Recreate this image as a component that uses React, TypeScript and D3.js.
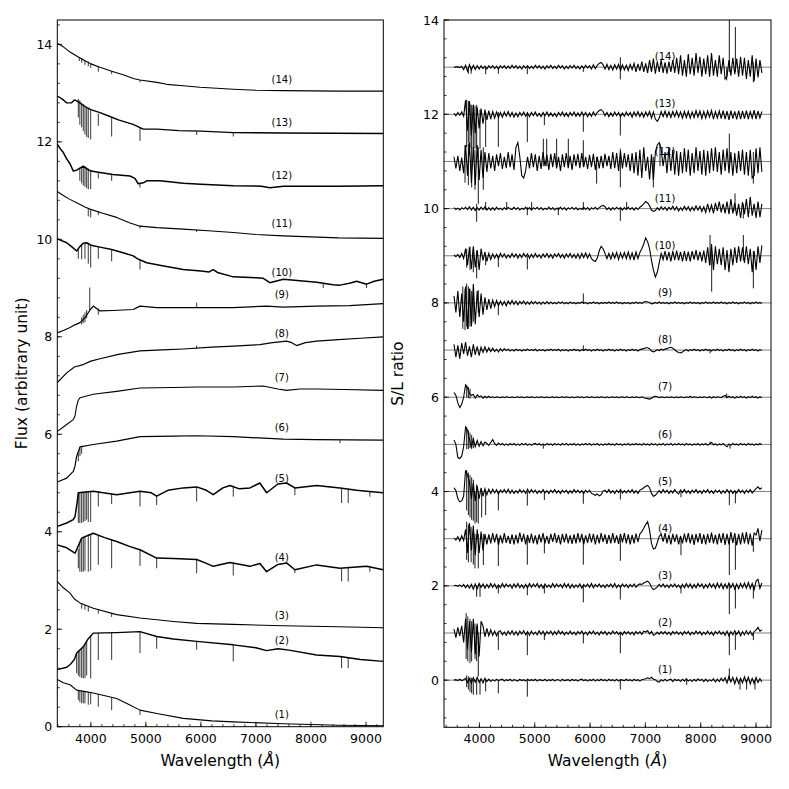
import * as d3 from "d3";

type P2 = [number, number];
type P3 = [number, number, number];

const names = ["(1)", "(2)", "(3)", "(4)", "(5)", "(6)", "(7)", "(8)", "(9)", "(10)", "(11)", "(12)", "(13)", "(14)"];

// ---- left panel: flux continua [wavelength, flux]
const flux1: P2[] = [[3390,0.97],[3500,0.9],[3621,0.86],[3742,0.75],[3900,0.72],[4044,0.69],[4469,0.58],[4700,0.45],[4893,0.34],[5200,0.27],[5679,0.17],[6200,0.12],[6588,0.1],[7496,0.06],[8500,0.03],[9315,0.02]];
const flux2: P2[] = [[3390,1.17],[3561,1.22],[3621,1.27],[3700,1.38],[3742,1.51],[3862,1.64],[3950,1.8],[4044,1.92],[4469,1.93],[4893,1.95],[5196,1.85],[5500,1.8],[5923,1.75],[6588,1.68],[7000,1.62],[7194,1.56],[7400,1.6],[7600,1.57],[8103,1.47],[8527,1.44],[8900,1.38],[9315,1.34]];
const flux3: P2[] = [[3390,2.98],[3500,2.85],[3621,2.74],[3700,2.62],[3802,2.54],[4044,2.43],[4469,2.3],[4893,2.23],[5500,2.16],[5923,2.12],[6588,2.1],[7496,2.07],[8500,2.05],[9315,2.03]];
const flux4: P2[] = [[3390,3.73],[3561,3.67],[3712,3.56],[3833,3.87],[4044,3.97],[4250,3.88],[4469,3.8],[4700,3.7],[4893,3.63],[5196,3.46],[5500,3.45],[5923,3.43],[6100,3.35],[6224,3.29],[6528,3.37],[6891,3.29],[7072,3.35],[7194,3.18],[7400,3.33],[7557,3.36],[7708,3.22],[8103,3.32],[8527,3.25],[9011,3.29],[9315,3.22]];
const flux5: P2[] = [[3390,4.11],[3561,4.18],[3680,4.25],[3712,4.31],[3750,4.6],[3772,4.8],[4044,4.83],[4469,4.76],[4893,4.83],[5100,4.8],[5196,4.73],[5400,4.85],[5679,4.9],[5923,4.92],[6100,4.85],[6224,4.76],[6400,4.9],[6528,4.95],[6700,4.88],[6891,4.9],[7072,5.0],[7194,4.8],[7400,4.98],[7557,5.0],[7708,4.9],[8103,4.95],[8527,4.9],[8830,4.85],[9011,4.83],[9315,4.8]];
const flux6: P2[] = [[3390,5.02],[3561,5.1],[3681,5.24],[3712,5.35],[3742,5.55],[3802,5.74],[4044,5.79],[4469,5.86],[4893,5.95],[5500,5.96],[5923,5.97],[6588,5.95],[7496,5.9],[8103,5.89],[9315,5.88]];
const flux7: P2[] = [[3390,6.06],[3500,6.15],[3561,6.2],[3681,6.3],[3712,6.38],[3742,6.58],[3772,6.7],[3802,6.75],[4044,6.82],[4469,6.88],[4893,6.95],[5500,6.96],[5923,6.97],[6588,6.97],[7133,6.99],[7400,6.93],[7557,6.9],[7800,6.93],[8103,6.93],[8600,6.92],[9315,6.9]];
const flux8: P2[] = [[3390,7.06],[3561,7.26],[3700,7.38],[3862,7.43],[4000,7.5],[4166,7.55],[4500,7.64],[4893,7.71],[5300,7.73],[5679,7.75],[6200,7.79],[6588,7.81],[7072,7.84],[7300,7.88],[7557,7.91],[7650,7.88],[7739,7.82],[7900,7.88],[8103,7.91],[8500,7.94],[8900,7.97],[9315,8.0]];
const flux9: P2[] = [[3390,8.08],[3500,8.13],[3621,8.19],[3700,8.24],[3802,8.29],[3900,8.4],[3984,8.55],[4044,8.63],[4166,8.53],[4400,8.54],[4771,8.56],[4893,8.63],[5200,8.6],[5923,8.6],[6588,8.6],[7194,8.63],[7500,8.61],[8103,8.63],[8700,8.64],[9315,8.68]];
const flux10: P2[] = [[3390,10.01],[3561,9.93],[3650,9.85],[3742,9.76],[3800,9.85],[3862,9.92],[3924,9.93],[4000,9.88],[4166,9.84],[4378,9.79],[4600,9.72],[4771,9.66],[4850,9.6],[4952,9.55],[5014,9.52],[5300,9.46],[5679,9.38],[6000,9.35],[6150,9.33],[6224,9.38],[6300,9.32],[6588,9.23],[7000,9.21],[7133,9.2],[7254,9.11],[7496,9.18],[7800,9.15],[8103,9.12],[8223,9.1],[8400,9.07],[8527,9.06],[8700,9.1],[8830,9.14],[8950,9.1],[9011,9.08],[9150,9.14],[9315,9.18]];
const flux11: P2[] = [[3390,10.98],[3500,10.9],[3600,10.83],[3742,10.75],[3900,10.66],[3984,10.62],[4200,10.54],[4469,10.45],[4700,10.34],[4893,10.27],[5200,10.24],[5679,10.21],[6200,10.17],[6588,10.14],[7000,10.1],[7496,10.07],[8000,10.05],[8500,10.03],[9315,10.02]];
const flux12: P2[] = [[3390,11.95],[3450,11.85],[3500,11.78],[3561,11.65],[3621,11.55],[3681,11.4],[3742,11.42],[3862,11.5],[3924,11.45],[4000,11.4],[4166,11.37],[4400,11.33],[4711,11.3],[4800,11.25],[4862,11.14],[4952,11.16],[5014,11.2],[5256,11.2],[5679,11.15],[6000,11.13],[6588,11.1],[7100,11.09],[7254,11.06],[7500,11.09],[8500,11.09],[9315,11.1]];
const flux13: P2[] = [[3390,12.94],[3450,12.9],[3500,12.86],[3561,12.8],[3650,12.8],[3700,12.86],[3742,12.84],[3800,12.8],[3900,12.72],[4000,12.66],[4166,12.6],[4347,12.52],[4500,12.45],[4767,12.36],[4952,12.26],[5200,12.26],[5600,12.23],[6000,12.22],[6588,12.19],[7500,12.18],[9315,12.17]];
const flux14: P2[] = [[3390,14.02],[3500,13.95],[3600,13.86],[3742,13.76],[3900,13.66],[4000,13.6],[4166,13.53],[4378,13.45],[4600,13.37],[4771,13.3],[4893,13.27],[5200,13.22],[5378,13.18],[5679,13.15],[5983,13.12],[6588,13.08],[7000,13.06],[7496,13.05],[8500,13.04],[9315,13.04]];
const fluxSeries = [flux1, flux2, flux3, flux4, flux5, flux6, flux7, flux8, flux9, flux10, flux11, flux12, flux13, flux14];

// absorption / emission features [wavelength, flux from, flux to]
const lines1: P3[] = [[3772,0.75,0.55],[3800,0.74,0.5],[3833,0.73,0.48],[3862,0.73,0.48],[3893,0.72,0.48],[3953,0.71,0.45],[3997,0.7,0.46],[4135,0.67,0.41],[4378,0.6,0.34],[4893,0.34,0.24]];
const lines2: P3[] = [[3742,1.5,1.1],[3772,1.55,1.05],[3800,1.58,1.02],[3833,1.62,1.0],[3862,1.64,0.99],[3893,1.7,1.0],[3924,1.75,1.05],[3997,1.88,0.99],[4135,1.92,1.37],[4378,1.93,1.37],[4893,1.95,1.51],[5196,1.85,1.6],[5923,1.75,1.58],[6588,1.68,1.34],[8557,1.44,1.2],[8677,1.42,1.2]];
const lines3: P3[] = [[3833,2.52,2.42],[3893,2.5,2.4],[3953,2.46,2.36],[4135,2.4,2.32],[4378,2.32,2.25]];
const lines4: P3[] = [[3772,3.65,3.25],[3800,3.78,3.18],[3833,3.87,3.18],[3862,3.9,3.18],[3893,3.92,3.2],[3953,3.95,3.18],[3997,3.96,3.2],[4135,3.92,3.32],[4378,3.83,3.25],[4893,3.63,3.3],[5196,3.46,3.25],[5923,3.43,3.15],[6588,3.37,3.1],[7708,3.22,3.15],[8557,3.25,2.98],[8677,3.27,2.98],[9071,3.28,3.18]];
const lines5: P3[] = [[3772,4.78,4.18],[3800,4.8,4.18],[3833,4.81,4.18],[3862,4.82,4.2],[3893,4.82,4.22],[3924,4.82,4.25],[3953,4.83,4.2],[3997,4.83,4.2],[4135,4.82,4.52],[4378,4.78,4.57],[4893,4.83,4.52],[5196,4.73,4.55],[5923,4.92,4.62],[6588,4.93,4.72],[7708,4.9,4.75],[8557,4.9,4.59],[8677,4.88,4.59],[9071,4.83,4.72]];
const lines6: P3[] = [[3772,5.62,5.45],[3802,5.72,5.55],[3833,5.75,5.6],[8527,5.88,5.82]];
const lines7: P3[] = [];
const lines8: P3[] = [[5923,7.76,7.82]];
const lines9: P3[] = [[3833,8.4,8.25],[3862,8.45,8.28],[3893,8.5,8.3],[3924,8.55,8.38],[3980,8.55,9.01],[4135,8.58,8.45],[5923,8.6,8.7]];
const lines10: P3[] = [[3772,9.78,9.6],[3833,9.88,9.59],[3893,9.92,9.6],[3953,9.93,9.5],[3997,9.9,9.42],[4135,9.85,9.6],[4378,9.79,9.55],[4893,9.58,9.38],[8223,9.1,9.0],[9011,9.08,9.0]];
const lines11: P3[] = [[3953,10.64,10.47],[3997,10.62,10.45],[4135,10.58,10.5],[4893,10.28,10.22],[5923,10.19,10.15]];
const lines12: P3[] = [[3800,11.47,11.2],[3833,11.48,11.15],[3862,11.5,11.1],[3893,11.49,11.08],[3924,11.47,11.05],[3953,11.45,11.03],[3997,11.42,11.03],[4135,11.38,11.25],[4378,11.34,11.2],[4893,11.15,11.06]];
const lines13: P3[] = [[3772,12.88,12.5],[3800,12.85,12.35],[3833,12.8,12.3],[3862,12.77,12.22],[3893,12.74,12.15],[3924,12.72,12.1],[3953,12.7,12.08],[3997,12.66,12.05],[4135,12.58,12.33],[4378,12.5,12.11],[4893,12.3,12.02],[5923,12.22,12.14],[6588,12.19,12.11]];
const lines14: P3[] = [[3790,13.74,13.66],[3833,13.72,13.62],[3893,13.68,13.58],[3953,13.65,13.55],[3997,13.62,13.52],[4135,13.54,13.44],[4378,13.45,13.39],[4893,13.27,13.22]];
const fluxLines = [lines1, lines2, lines3, lines4, lines5, lines6, lines7, lines8, lines9, lines10, lines11, lines12, lines13, lines14];

const fluxLabelY = [0.25, 1.76, 2.28, 3.47, 5.1, 6.14, 7.16, 8.06, 8.86, 9.32, 10.32, 11.3, 12.4, 13.27];
const fluxLabelW = 7470;

// ---- right panel: S/L ratio, each spectrum offset by one unit
const ratioOffset = [0, 1, 2, 3, 4, 5, 6, 7, 8, 9, 10, 11, 12, 13];
const ratioWave = [
  3540, 3575, 3610, 3645, 3680, 3715, 3750, 3785, 3820, 3855,
  3890, 3925, 3960, 3995, 4030, 4065, 4100, 4135, 4170, 4205,
  4240, 4275, 4310, 4345, 4380, 4415, 4450, 4485, 4520, 4555,
  4590, 4625, 4660, 4695, 4730, 4765, 4800, 4835, 4870, 4905,
  4940, 4975, 5010, 5045, 5080, 5115, 5150, 5185, 5220, 5255,
  5290, 5325, 5360, 5395, 5430, 5465, 5500, 5535, 5570, 5605,
  5640, 5675, 5710, 5745, 5780, 5815, 5850, 5885, 5920, 5955,
  5990, 6025, 6060, 6095, 6130, 6165, 6200, 6235, 6270, 6305,
  6340, 6375, 6410, 6445, 6480, 6515, 6550, 6585, 6620, 6655,
  6690, 6725, 6760, 6795, 6830, 6865, 6900, 6935, 6970, 7005,
  7040, 7075, 7110, 7145, 7180, 7215, 7250, 7285, 7320, 7355,
  7390, 7425, 7460, 7495, 7530, 7565, 7600, 7635, 7670, 7705,
  7740, 7775, 7810, 7845, 7880, 7915, 7950, 7985, 8020, 8055,
  8090, 8125, 8160, 8195, 8230, 8265, 8300, 8335, 8370, 8405,
  8440, 8475, 8510, 8545, 8580, 8615, 8650, 8685, 8720, 8755,
  8790, 8825, 8860, 8895, 8930, 8965, 9000, 9035, 9070, 9105,
];
const ratio1 = [
  0, 0.01, -0.01, 0.02, -0.01, 0.01, 0.04, -0.05, 0.03, -0.06,
  0.05, -0.04, 0.06, -0.05, 0.03, -0.06, 0.04, -0.03, 0.02, -0.03,
  0.01, -0.02, 0.02, -0.01, 0.01, 0.02, -0.02, 0.01, -0.01, 0.02,
  -0.02, 0.01, 0, -0.02, 0.02, -0.01, 0.01, -0.02, 0.02, -0.01,
  0.01, -0.01, 0.02, -0.02, 0.01, 0, -0.01, 0.02, -0.02, 0.01,
  -0.01, 0.02, -0.02, 0.01, 0.01, -0.02, 0.02, -0.01, 0, 0.01,
  -0.02, 0.02, -0.01, 0.01, -0.02, 0.01, 0.02, -0.01, 0.01, -0.02,
  0.01, -0.01, 0.02, -0.02, 0.01, -0.01, 0.02, -0.01, 0.01, -0.02,
  0.02, -0.01, 0.01, -0.02, 0.02, -0.02, 0.01, 0, -0.01, 0.02,
  -0.01, 0.01, -0.02, 0.02, -0.01, 0.01, -0.02, 0.01, 0.02, 0.03,
  0.05, 0.03, 0.06, 0.02, 0.01, -0.03, -0.04, 0.01, -0.02, 0.02,
  -0.02, 0.01, 0.02, -0.03, 0.02, -0.01, 0.01, -0.03, 0.02, -0.02,
  0.03, -0.02, 0.01, -0.03, 0.02, -0.02, 0.03, -0.01, 0.02, -0.03,
  0.02, -0.03, 0.01, -0.02, 0.03, -0.04, 0.02, -0.03, 0.04, -0.02,
  0.05, -0.06, 0.08, -0.04, 0.06, -0.08, 0.05, -0.07, 0.04, -0.06,
  0.07, -0.05, 0.06, -0.08, 0.04, -0.07, 0.06, -0.05, 0.03, -0.04,
];
const ratio2 = [
  0.08, -0.1, 0.12, -0.06, 0.15, -0.2, 0.3, -0.35, 0.25, -0.4,
  0.3, -0.45, 0.2, -0.5, 0.25, 0.15, -0.08, 0.1, -0.06, 0.07,
  -0.05, 0.04, -0.06, 0.03, 0.05, -0.04, 0.02, -0.05, 0.04, -0.03,
  0.05, -0.04, 0.03, -0.05, 0.04, -0.02, 0.05, -0.04, 0.03, -0.05,
  0.04, -0.03, 0.02, -0.04, 0.05, -0.03, 0.04, -0.05, 0.03, -0.02,
  0.04, -0.04, 0.03, -0.03, 0.05, -0.02, 0.03, -0.04, 0.02, -0.03,
  0.04, -0.03, 0.02, -0.04, 0.03, -0.02, 0.04, -0.03, 0.02, -0.04,
  0.03, -0.02, 0.04, -0.03, 0.02, -0.04, 0.03, -0.02, 0.03, -0.04,
  0.02, -0.03, 0.04, -0.02, 0.03, -0.03, 0.02, -0.04, 0.03, -0.02,
  0.03, -0.03, 0.02, -0.04, 0.03, -0.02, 0.03, -0.03, 0.04, 0.02,
  0.05, -0.02, 0.03, -0.05, -0.03, 0.02, -0.03, 0.03, -0.02, 0.03,
  -0.03, 0.02, -0.04, 0.03, -0.02, 0.03, -0.03, 0.02, -0.04, 0.03,
  -0.02, 0.03, -0.04, 0.02, -0.03, 0.04, -0.02, 0.03, -0.04, 0.02,
  -0.03, 0.04, -0.03, 0.02, -0.05, 0.03, -0.02, 0.04, -0.03, 0.02,
  -0.05, 0.04, -0.06, 0.03, -0.04, 0.05, -0.03, 0.04, -0.06, 0.03,
  -0.04, 0.05, -0.03, 0.04, -0.05, 0.03, 0.06, 0.12, 0.04, 0.07,
];
const ratio3 = [
  0, 0.01, -0.01, 0.02, -0.02, 0.03, -0.04, 0.02, -0.05, 0.03,
  -0.07, 0.04, -0.06, 0.05, -0.03, 0.04, -0.05, 0.03, -0.04, 0.05,
  -0.03, 0.04, -0.05, 0.02, -0.04, 0.05, -0.03, 0.04, -0.02, 0.03,
  -0.05, 0.04, -0.03, 0.05, -0.04, 0.02, -0.05, 0.03, -0.04, 0.05,
  -0.03, 0.04, -0.02, 0.05, -0.04, 0.03, -0.05, 0.04, -0.03, 0.02,
  -0.04, 0.05, -0.03, 0.04, -0.02, 0.03, -0.04, 0.05, -0.03, 0.04,
  -0.05, 0.03, -0.04, 0.02, -0.03, 0.04, -0.05, 0.03, -0.02, 0.04,
  -0.03, 0.05, -0.04, 0.03, -0.02, 0.04, -0.03, 0.02, -0.04, 0.03,
  -0.02, 0.04, -0.03, 0.05, -0.04, 0.02, -0.03, 0.04, -0.02, 0.03,
  -0.04, 0.03, -0.02, 0.04, -0.03, 0.02, 0.04, 0.03, 0.06, 0.08,
  0.1, 0.06, -0.03, -0.08, -0.06, -0.02, 0.03, -0.02, 0.04, -0.03,
  0.02, -0.04, 0.03, -0.02, 0.04, -0.03, 0.02, -0.05, 0.03, -0.04,
  0.05, -0.03, 0.04, -0.05, 0.03, -0.04, 0.05, -0.02, 0.04, -0.05,
  0.03, -0.04, 0.05, -0.03, 0.04, -0.05, 0.06, -0.04, 0.05, -0.06,
  0.04, -0.05, 0.06, -0.04, 0.05, -0.07, 0.04, -0.06, 0.05, -0.04,
  0.06, -0.05, 0.07, -0.06, 0.05, -0.08, 0.1, 0.14, -0.05, 0.06,
];
const ratio4 = [
  0.02, -0.03, 0.04, -0.05, 0.06, -0.04, 0.2, -0.3, 0.33, -0.25,
  0.28, -0.35, 0.2, -0.3, 0.15, -0.25, 0.1, -0.12, 0.09, -0.1,
  0.12, -0.08, 0.1, -0.13, 0.07, -0.1, 0.12, -0.09, 0.06, -0.11,
  0.09, -0.12, 0.08, -0.1, 0.13, -0.07, 0.1, -0.12, 0.08, -0.09,
  0.11, -0.1, 0.07, -0.12, 0.09, -0.08, 0.12, -0.1, 0.06, -0.11,
  0.1, -0.07, 0.12, -0.09, 0.08, -0.12, 0.1, -0.08, 0.11, -0.1,
  0.07, -0.11, 0.09, -0.1, 0.12, -0.08, 0.1, -0.12, 0.07, -0.09,
  0.11, -0.08, 0.1, -0.12, 0.08, -0.1, 0.12, -0.07, 0.09, -0.11,
  0.08, -0.1, 0.12, -0.09, 0.07, -0.11, 0.1, -0.08, 0.12, -0.1,
  0.09, -0.12, 0.08, -0.1, 0.11, -0.07, 0.1, 0.15, 0.22, 0.3,
  0.36, 0.18, -0.1, -0.22, -0.2, -0.08, 0.05, 0.1, -0.06, 0.12,
  -0.1, 0.08, -0.12, 0.1, -0.07, 0.09, -0.12, 0.06, -0.1, 0.11,
  -0.08, 0.12, -0.1, 0.09, -0.13, 0.1, -0.08, 0.12, -0.11, 0.09,
  -0.12, 0.1, -0.09, 0.13, -0.1, 0.08, -0.12, 0.11, -0.09, 0.12,
  -0.13, 0.1, -0.12, 0.14, -0.09, 0.12, -0.14, 0.1, -0.12, 0.13,
  -0.1, 0.14, -0.12, 0.11, -0.15, 0.12, 0.08, 0.22, -0.05, 0.18,
];
const ratio5 = [
  0.08, 0.02, -0.15, -0.22, -0.2, -0.1, 0.45, 0.35, 0.2, -0.15,
  0.18, -0.2, 0.12, -0.15, 0.08, -0.1, 0.06, -0.07, 0.05, -0.04,
  0.05, -0.03, 0.04, -0.05, 0.03, -0.02, 0.04, -0.03, 0.05, -0.04,
  0.03, -0.04, 0.02, -0.03, 0.04, -0.02, 0.03, -0.04, 0.05, -0.03,
  0.04, -0.02, 0.03, -0.04, 0.02, -0.03, 0.04, -0.03, 0.02, -0.04,
  0.03, -0.02, 0.04, -0.03, 0.02, -0.04, 0.03, -0.02, 0.03, -0.04,
  0.02, -0.03, 0.04, -0.02, 0.03, -0.03, 0.02, -0.04, 0.03, -0.02,
  0.03, -0.04, -0.06, -0.08, -0.05, -0.09, -0.07, 0.01, 0.03, -0.02,
  0.04, -0.03, 0.02, -0.04, 0.03, -0.02, 0.04, -0.03, 0.02, -0.03,
  0.03, -0.02, 0.04, -0.03, 0.02, -0.04, 0.03, 0.05, 0.08, 0.11,
  0.13, 0.08, -0.04, -0.1, -0.08, -0.03, 0.02, -0.03, 0.04, -0.02,
  0.03, -0.04, 0.02, -0.03, 0.04, -0.02, -0.05, 0.03, -0.02, 0.04,
  -0.03, 0.02, -0.04, 0.03, -0.02, 0.04, -0.03, 0.02, -0.04, 0.03,
  -0.02, 0.04, -0.03, 0.02, -0.04, 0.03, -0.02, 0.03, -0.04, 0.02,
  -0.03, 0.04, -0.02, 0.03, -0.04, 0.02, -0.03, 0.04, -0.02, 0.03,
  -0.04, 0.03, -0.02, 0.04, -0.03, 0.02, 0.06, 0.1, 0.05, 0.08,
];
const ratio6 = [
  0.09, 0, -0.28, -0.3, -0.25, -0.05, 0.37, 0.3, 0.1, -0.06,
  0.12, -0.05, 0.08, -0.04, 0.06, -0.03, 0.05, 0.02, -0.02, 0.04,
  0.1, 0.02, -0.02, 0.03, -0.01, 0.02, -0.02, 0.01, -0.02, 0.02,
  -0.01, 0.02, -0.02, 0.01, -0.02, 0.02, -0.01, 0.02, -0.02, 0.01,
  -0.02, 0.01, 0.02, -0.01, 0.02, -0.02, 0.01, -0.02, 0.02, -0.01,
  0.01, -0.02, 0.02, -0.01, 0.01, -0.02, 0.02, -0.01, 0.02, -0.02,
  0.01, -0.01, 0.02, -0.02, 0.01, -0.02, 0.01, -0.01, 0.02, -0.01,
  0.02, -0.02, 0.01, -0.01, 0.02, -0.02, 0.01, -0.02, 0.01, -0.01,
  0.02, -0.01, 0.01, -0.02, 0.02, -0.01, 0.01, -0.02, 0.01, -0.01,
  0.02, -0.02, 0.01, -0.01, 0.02, -0.01, 0.01, -0.02, 0.02, -0.01,
  0.01, -0.02, 0.02, -0.01, 0.01, -0.02, 0.01, -0.01, 0.02, -0.02,
  0.01, -0.01, 0.02, -0.02, 0.01, -0.01, 0.02, -0.01, 0.01, -0.02,
  0.02, -0.01, 0.01, -0.02, 0.01, -0.01, 0.02, -0.02, 0.01, -0.01,
  0.02, -0.02, 0.01, 0.04, -0.01, 0.01, -0.02, 0.01, -0.01, 0.02,
  -0.02, -0.05, 0.01, -0.02, 0.02, -0.01, 0.01, -0.02, 0.02, -0.01,
  0.01, -0.02, 0.02, -0.01, 0.01, -0.02, 0.01, -0.01, 0.02, -0.01,
];
const ratio7 = [
  0.1, 0.04, -0.12, -0.22, -0.15, 0, 0.26, 0.2, 0.08, 0.04,
  0.06, -0.02, 0.05, 0.01, 0.03, -0.02, 0.02, -0.01, 0.02, -0.01,
  0.01, -0.01, 0.01, 0, -0.01, 0.01, -0.01, 0.01, 0, -0.01,
  0.01, -0.01, 0, 0.01, -0.01, 0.01, -0.01, 0, 0.01, -0.01,
  0.01, 0, -0.01, 0.01, -0.01, 0.01, 0, -0.01, 0.01, -0.01,
  0, 0.01, -0.01, 0.01, -0.01, 0, 0.01, -0.01, 0.01, 0,
  -0.01, 0.01, -0.01, 0, 0.01, -0.01, 0.01, -0.01, 0, 0.01,
  -0.01, 0.01, 0, -0.01, 0.01, -0.01, 0.01, 0, -0.01, 0.01,
  -0.01, 0, 0.01, -0.01, 0.01, -0.01, 0, 0.01, -0.01, 0.01,
  0, -0.01, 0.01, -0.01, 0.01, 0, -0.01, 0.01, -0.01, -0.02,
  -0.03, -0.04, -0.02, 0.01, 0.02, 0.01, -0.01, 0.01, 0, -0.01,
  0.01, -0.01, 0.01, 0, -0.01, 0.01, -0.01, 0.01, 0, -0.01,
  0.01, -0.01, 0.02, -0.01, 0.01, 0, -0.01, 0.01, -0.01, 0.01,
  0, -0.01, 0.01, -0.02, 0.01, -0.01, 0.01, 0, -0.01, 0.02,
  0.04, -0.01, 0.02, -0.01, 0.01, -0.02, 0.01, -0.01, 0.02, -0.01,
  0.01, -0.02, 0.01, -0.01, 0.02, -0.01, 0.01, -0.02, 0.01, -0.01,
];
const ratio8 = [
  0.12, -0.15, 0.1, -0.18, 0.15, -0.08, 0.17, -0.12, 0.08, -0.15,
  0.12, -0.1, 0.08, -0.12, 0.06, -0.05, 0.07, -0.04, 0.05, -0.03,
  0.04, -0.03, 0.02, -0.04, 0.03, -0.02, 0.03, -0.01, 0.02, -0.02,
  0.01, -0.02, 0.02, -0.01, 0.01, -0.02, 0.01, -0.01, 0.02, -0.01,
  0.01, -0.01, 0.02, -0.02, 0.01, -0.01, 0.01, -0.02, 0.01, -0.01,
  0.02, -0.01, 0.01, -0.01, 0.02, -0.02, 0.01, -0.01, 0.01, -0.02,
  0.01, -0.01, 0.02, -0.01, 0.01, -0.02, 0.01, -0.01, 0.02, -0.01,
  0.01, -0.02, 0.01, -0.01, 0.02, -0.01, 0.01, -0.02, 0.01, -0.01,
  0.02, -0.01, 0.01, -0.02, 0.01, -0.01, 0.02, -0.01, 0.01, -0.02,
  0.01, -0.01, 0.02, -0.01, 0.01, -0.02, 0.01, 0.02, 0.03, 0.05,
  0.05, 0.03, -0.02, -0.04, -0.02, 0.01, -0.01, 0.02, 0, 0.02,
  0.03, 0.05, 0.06, 0.04, 0.01, -0.03, -0.05, -0.06, -0.04, -0.01,
  0.01, -0.02, 0.01, -0.01, 0.02, -0.01, 0.01, -0.02, 0.01, -0.01,
  0.02, -0.01, 0.01, -0.02, 0.01, -0.01, 0.02, -0.01, 0.01, -0.02,
  0.01, -0.01, 0.02, -0.01, 0.01, -0.02, 0.01, -0.01, 0.02, -0.01,
  0.01, -0.02, 0.01, -0.01, 0.02, -0.01, 0.01, -0.02, 0.01, -0.01,
];
const ratio9 = [
  0.15, -0.2, 0.25, -0.3, 0.2, -0.4, 0.35, -0.55, 0.3, -0.5,
  0.4, -0.45, 0.25, -0.3, 0.2, -0.25, 0.12, -0.15, 0.08, -0.12,
  0.06, -0.08, 0.05, -0.06, 0.04, -0.05, 0.03, -0.06, 0.04, -0.03,
  0.05, -0.03, 0.04, -0.04, 0.03, -0.02, 0.04, -0.03, 0.02, -0.03,
  0.03, -0.02, 0.03, -0.02, 0.02, -0.03, 0.02, -0.02, 0.03, -0.02,
  0.02, -0.02, 0.01, -0.02, 0.02, -0.01, 0.02, -0.02, 0.01, -0.02,
  0.02, -0.01, 0.01, -0.02, 0.01, -0.01, 0.02, -0.01, 0.01, -0.02,
  0.01, -0.01, 0.02, -0.01, 0.01, -0.02, 0.01, -0.01, 0.01, -0.01,
  0.02, -0.01, 0.01, -0.01, 0.02, -0.01, 0.01, -0.02, 0.01, -0.01,
  0.01, -0.02, 0.01, -0.01, 0.02, -0.01, 0.01, -0.01, 0.02, 0.03,
  0.02, 0.01, -0.02, -0.01, 0.01, -0.01, 0.02, -0.01, 0.01, -0.01,
  0.01, -0.02, 0.01, -0.01, 0.02, -0.01, 0.01, -0.01, 0.01, -0.02,
  0.01, -0.01, 0.02, -0.01, 0.01, -0.01, 0.01, -0.02, 0.01, -0.01,
  0.02, -0.01, 0.01, -0.01, 0.02, -0.01, 0.01, -0.01, 0.02, -0.01,
  0.01, -0.02, 0.01, -0.01, 0.02, -0.01, 0.01, -0.02, 0.01, -0.01,
  0.02, -0.01, 0.01, -0.02, 0.01, -0.01, 0.02, -0.01, 0.01, -0.01,
];
const ratio10 = [
  0.02, -0.02, 0.03, -0.04, 0.05, -0.06, 0.15, -0.2, 0.18, -0.28,
  0.2, -0.25, 0.12, -0.3, 0.15, -0.1, 0.08, -0.12, 0.05, -0.08,
  0.04, -0.05, 0.03, -0.06, 0.05, -0.03, 0.04, -0.05, 0.02, -0.04,
  0.05, -0.03, 0.04, -0.05, 0.03, -0.04, 0.05, -0.02, 0.04, -0.05,
  0.03, -0.04, 0.05, -0.03, 0.02, -0.05, 0.04, -0.03, 0.05, -0.04,
  0.03, -0.05, 0.04, -0.02, 0.05, -0.04, 0.03, -0.05, 0.04, -0.03,
  0.05, -0.04, 0.03, -0.05, 0.04, -0.06, 0.05, -0.04, 0.06, -0.05,
  0.04, -0.06, -0.1, -0.12, -0.05, 0.1, 0.2, 0.15, 0.05, -0.06,
  0.05, -0.07, 0.06, -0.05, 0.07, -0.08, 0.06, -0.05, 0.07, -0.06,
  0.08, -0.07, 0.06, -0.09, 0.08, -0.06, 0.07, 0.15, 0.25, 0.38,
  0.3, 0.15, -0.1, -0.3, -0.45, -0.35, -0.15, 0.05, -0.08, 0.1,
  -0.1, 0.08, -0.12, 0.1, -0.09, 0.11, -0.1, 0.08, -0.12, 0.1,
  -0.11, 0.09, -0.12, 0.1, -0.08, 0.12, -0.1, 0.09, -0.12, 0.11,
  -0.15, 0.18, -0.2, 0.25, -0.3, 0.2, -0.18, 0.15, -0.2, 0.18,
  -0.3, 0.12, -0.35, 0.15, -0.2, 0.18, -0.15, 0.2, -0.12, 0.18,
  -0.15, 0.2, -0.18, 0.15, -0.35, 0.1, -0.3, 0.2, -0.15, 0.22,
];
const ratio11 = [
  0.02, -0.02, 0.01, -0.03, 0.02, -0.01, 0.03, -0.02, 0.04, -0.03,
  0.03, -0.04, 0.02, -0.03, 0.03, -0.02, 0.04, -0.03, 0.02, -0.03,
  0.02, -0.03, 0.03, -0.02, 0.01, -0.03, 0.02, -0.02, 0.03, -0.01,
  -0.02, 0.03, -0.02, 0.02, -0.03, 0.01, -0.02, 0.03, -0.02, 0.02,
  -0.03, 0.02, -0.01, 0.03, -0.02, 0.02, -0.03, 0.01, -0.02, 0.03,
  -0.02, 0.02, -0.03, 0.01, -0.02, 0.03, -0.02, 0.02, -0.03, 0.02,
  -0.01, 0.03, -0.02, 0.02, -0.03, 0.01, -0.02, 0.03, -0.02, 0.02,
  -0.03, 0.02, -0.01, 0.03, -0.02, 0.02, 0.05, 0.07, 0.04, -0.02,
  0.02, -0.03, 0.02, -0.02, 0.03, -0.01, 0.02, -0.03, 0.02, -0.02,
  0.03, -0.02, 0.02, -0.03, 0.02, -0.02, 0.03, 0.06, 0.1, 0.15,
  0.12, 0.06, -0.03, -0.06, -0.04, 0.02, -0.03, 0.04, -0.02, 0.03,
  -0.04, 0.03, -0.02, 0.05, -0.03, 0.04, -0.05, 0.02, -0.04, 0.05,
  -0.03, 0.04, -0.05, 0.03, -0.04, 0.06, -0.03, 0.05, -0.06, 0.04,
  -0.08, 0.1, -0.06, 0.08, -0.1, 0.12, -0.05, 0.15, -0.08, 0.1,
  -0.1, 0.15, -0.12, 0.2, -0.1, 0.12, -0.15, 0.1, -0.2, 0.14,
  -0.12, 0.2, -0.18, 0.25, -0.15, 0.1, -0.2, 0.15, -0.18, 0.1,
];
const ratio12 = [
  0.1, -0.15, 0.12, -0.2, 0.08, -0.25, 0.35, -0.3, 0.4, -0.45,
  0.3, -0.5, 0.35, -0.4, 0.25, -0.35, 0.2, -0.22, 0.18, -0.15,
  0.12, -0.2, 0.15, -0.1, 0.18, -0.16, 0.1, -0.14, 0.2, -0.12,
  0.15, -0.18, 0.3, 0.4, 0.1, -0.3, -0.35, -0.2, 0.1, -0.15,
  0.18, -0.12, 0.15, -0.2, 0.12, -0.16, 0.2, -0.1, 0.14, -0.18,
  0.16, -0.12, 0.18, -0.15, 0.1, -0.2, 0.15, -0.12, 0.18, -0.14,
  0.12, -0.18, 0.15, -0.1, 0.16, -0.14, 0.18, -0.12, 0.1, -0.16,
  0.14, -0.12, 0.16, -0.18, 0.1, -0.15, 0.12, -0.14, 0.16, -0.1,
  0.12, -0.16, 0.2, -0.14, 0.18, -0.2, 0.22, -0.15, 0.18, -0.12,
  0.15, -0.2, 0.18, -0.25, 0.2, -0.3, 0.25, -0.35, 0.3, -0.2,
  0.1, -0.38, 0.15, -0.4, 0.2, 0.35, 0.4, 0.25, -0.1, 0.2,
  -0.25, 0.3, -0.2, 0.25, -0.28, 0.22, -0.3, 0.2, -0.25, 0.28,
  -0.22, 0.25, -0.3, 0.18, -0.25, 0.3, -0.2, 0.22, -0.28, 0.25,
  -0.3, 0.22, -0.25, 0.28, -0.2, 0.3, -0.22, 0.2, -0.28, 0.25,
  -0.2, 0.28, -0.25, 0.2, -0.3, 0.18, -0.25, 0.22, -0.2, 0.25,
  -0.28, 0.2, -0.3, 0.25, -0.35, -0.3, 0.28, -0.25, 0.3, -0.22,
];
const ratio13 = [
  0.02, -0.03, 0.04, -0.02, 0.05, -0.04, 0.3, -0.35, 0.28, -0.45,
  0.2, -0.4, 0.15, -0.3, 0.12, -0.2, 0.1, -0.12, 0.08, -0.1,
  0.06, -0.08, 0.05, -0.07, 0.04, -0.06, 0.05, -0.04, 0.06, -0.05,
  0.04, -0.06, 0.03, -0.05, 0.04, -0.03, 0.05, -0.04, 0.03, -0.05,
  0.04, -0.03, 0.05, -0.04, 0.02, -0.05, 0.04, -0.03, 0.05, -0.04,
  0.03, -0.04, 0.02, -0.05, 0.04, -0.03, 0.05, -0.04, 0.03, -0.05,
  0.04, -0.03, 0.05, -0.04, 0.03, -0.04, 0.05, -0.03, 0.04, -0.05,
  0.03, -0.04, 0.05, -0.03, 0.04, 0.08, 0.1, 0.06, -0.03, 0.04,
  -0.05, 0.03, -0.04, 0.05, -0.03, 0.04, -0.05, 0.03, -0.04, 0.05,
  -0.03, 0.04, -0.06, 0.05, -0.04, 0.06, -0.05, 0.04, -0.06, 0.05,
  -0.04, 0.06, -0.08, 0.05, -0.1, -0.15, -0.08, 0.06, -0.05, 0.07,
  -0.06, 0.05, -0.07, 0.06, -0.05, 0.07, -0.06, 0.05, -0.08, 0.06,
  -0.07, 0.06, -0.08, 0.05, -0.07, 0.08, -0.06, 0.07, -0.09, 0.06,
  -0.08, 0.07, -0.06, 0.08, -0.1, 0.06, -0.08, 0.07, -0.09, 0.08,
  -0.1, 0.07, -0.12, 0.08, -0.09, 0.06, -0.11, 0.08, -0.1, 0.07,
  -0.09, 0.08, -0.1, 0.06, -0.08, 0.09, -0.1, 0.07, -0.08, 0.06,
];
const ratio14 = [
  0, 0, 0.01, -0.01, 0.02, -0.05, 0.04, -0.08, 0.05, -0.06,
  0.04, -0.05, 0.03, -0.04, 0.03, -0.03, 0.02, -0.04, 0.03, -0.02,
  0.03, -0.03, 0.02, -0.04, 0.03, -0.02, 0.03, -0.03, 0.02, -0.03,
  0.04, -0.02, 0.03, -0.03, 0.02, -0.04, 0.03, -0.02, 0.03, -0.03,
  0.02, -0.03, 0.04, -0.02, 0.03, -0.03, 0.02, -0.04, 0.03, -0.02,
  0.04, -0.03, 0.02, -0.03, 0.04, -0.02, 0.03, -0.04, 0.02, -0.03,
  0.03, -0.02, 0.04, -0.03, 0.02, -0.04, 0.03, -0.03, 0.04, -0.02,
  0.03, -0.04, 0.05, -0.03, 0.04, 0.08, 0.1, 0.05, -0.04, 0.06,
  -0.05, 0.04, -0.06, 0.05, -0.04, 0.06, -0.07, 0.05, -0.06, 0.04,
  -0.07, 0.06, -0.05, 0.08, -0.1, 0.07, -0.08, 0.12, -0.1, 0.08,
  -0.12, 0.15, -0.1, 0.18, -0.14, 0.12, -0.1, 0.15, -0.12, 0.1,
  -0.14, 0.12, -0.1, 0.15, -0.12, 0.2, -0.15, 0.25, -0.18, 0.15,
  -0.2, 0.28, -0.15, 0.2, -0.18, 0.3, -0.12, 0.22, -0.2, 0.18,
  -0.15, 0.25, -0.2, 0.3, -0.18, 0.15, -0.2, 0.25, -0.15, 0.2,
  -0.25, -0.2, 0.15, -0.18, 0.2, -0.15, 0.18, -0.2, 0.22, -0.18,
  0.2, -0.25, 0.15, -0.2, 0.25, -0.3, 0.18, -0.22, 0.15, -0.12,
];
const ratioSeries = [ratio1, ratio2, ratio3, ratio4, ratio5, ratio6, ratio7, ratio8, ratio9, ratio10, ratio11, ratio12, ratio13, ratio14];

// narrow features in the ratio spectra [wavelength, from, to] relative to the offset
const spikes1: P3[] = [[3770,-0.15,0.1],[3800,-0.2,0.08],[3830,-0.25,0.06],[3860,-0.28,0.05],[3890,-0.31,0],[3950,-0.31,0],[4011,-0.31,0],[4113,-0.24,0],[4342,-0.28,0],[4866,-0.35,0],[6547,-0.2,0],[7746,-0.1,0],[8517,0,0.25],[8710,-0.2,0],[8830,-0.2,0],[8981,-0.2,0]];
const spikes2: P3[] = [[3760,-0.55,0.42],[3790,-0.6,0.35],[3830,-0.64,0.3],[3860,-0.6,0.25],[3920,-0.55,0.2],[3950,-0.6,0.15],[3980,-0.92,0],[4342,-0.36,0],[4866,-0.47,0],[5174,-0.15,0],[5878,-0.22,0],[6547,-0.43,0],[8517,-0.47,0],[8626,-0.36,0],[8951,-0.15,0]];
const spikes3: P3[] = [[3950,-0.23,0],[4011,-0.23,0],[4342,-0.16,0],[4866,-0.2,0],[5174,-0.16,0],[5878,-0.35,0],[6547,-0.29,0],[7643,-0.16,0],[8517,-0.6,0],[8626,-0.48,0],[8951,-0.27,0]];
const spikes4: P3[] = [[3770,-0.45,0.36],[3800,-0.5,0.3],[3850,-0.5,0.25],[3890,-0.55,0.2],[3920,-0.63,0.1],[3980,-0.63,0.1],[4071,-0.56,0.1],[4342,-0.58,0],[4866,-0.55,0],[5174,-0.31,0],[5878,-0.55,0],[6547,-0.47,0],[7643,-0.35,0],[8517,-0.77,0],[8626,-0.66,0],[8951,-0.28,0]];
const spikes5: P3[] = [[3770,-0.4,0.45],[3800,-0.5,0.4],[3830,-0.55,0.35],[3860,-0.6,0.3],[3890,-0.62,0.25],[3920,-0.68,0],[3950,-0.65,0.15],[3980,-0.68,0],[4041,-0.55,0],[4113,-0.5,0],[4342,-0.4,0],[4866,-0.3,0],[5174,-0.18,0],[5878,-0.26,0],[6547,-0.17,0],[7643,-0.12,0],[8517,-0.29,0],[8626,-0.25,0]];
const spikes6: P3[] = [[3770,-0.1,0.37],[3800,-0.1,0.3],[3830,-0.08,0.25],[3860,-0.1,0.2],[3890,-0.08,0.15],[5155,-0.09,0],[8168,0,0.06],[8529,-0.09,0]];
const spikes7: P3[] = [[3770,0,0.26],[3800,-0.02,0.22],[3830,-0.03,0.18],[8469,0,0.08]];
const spikes8: P3[] = [[5878,0,0.1],[8168,-0.07,0]];
const spikes9: P3[] = [[3700,-0.55,0.35],[3740,-0.58,0.3],[3770,-0.5,0.41],[3800,-0.55,0.35],[3830,-0.5,0.3],[3860,-0.45,0.25],[3890,-0.4,0.2],[3980,-0.2,0.27],[4342,-0.26,0],[5878,0,0.2]];
const spikes10: P3[] = [[3770,-0.25,0.15],[3830,-0.3,0.2],[3890,-0.35,0.15],[3950,-0.48,0.1],[4113,-0.2,0],[4342,-0.24,0],[4866,-0.29,0],[8168,-0.2,0.44],[8198,-0.76,0.1],[8770,-0.1,0.44],[8951,-0.69,0.1]];
const spikes11: P3[] = [[3950,-0.28,0.1],[4113,-0.03,0.14],[4493,-0.03,0.14],[4866,-0.14,0.03],[4944,-0.03,0.14],[5426,-0.14,0.03],[5878,-0.03,0.14],[6547,-0.26,0.03],[6661,-0.03,0.14],[8620,-0.05,0.32],[8770,-0.21,0.1]];
const spikes12: P3[] = [[3740,-0.45,0.35],[3800,-0.5,0.38],[3860,-0.55,0.3],[3920,-0.6,0.25],[3980,-0.9,0.3],[4070,-0.6,0.3],[5155,-0.1,0.48],[5216,-0.1,0.48],[5396,-0.1,0.48],[5607,-0.1,0.48],[5878,-0.1,0.45],[6119,-0.47,0.1],[6547,-0.55,0.27],[7143,-0.55,0.1],[7264,-0.1,0.38],[8517,-0.1,0.59],[8951,-0.47,0.2]];
const spikes13: P3[] = [[3770,-0.7,0.31],[3800,-0.6,0.28],[3830,-0.7,0.22],[3860,-0.72,0.2],[3890,-0.73,0.2],[3920,-0.73,0.18],[3950,-0.73,0.2],[4011,-0.73,0.1],[4113,-0.69,0.05],[4342,-0.69,0.05],[4866,-0.59,0.05],[5174,-0.23,0],[5878,-0.37,0],[6547,-0.45,0]];
const spikes14: P3[] = [[3800,-0.14,0],[3850,-0.14,0],[4113,-0.15,0],[4342,-0.14,0],[4866,-0.15,0],[5878,-0.1,0],[6547,-0.26,0.21],[8469,-0.28,0],[8517,-0.1,1.0],[8626,-0.1,0.85],[8951,-0.32,0.1]];
const ratioSpikes = [spikes1, spikes2, spikes3, spikes4, spikes5, spikes6, spikes7, spikes8, spikes9, spikes10, spikes11, spikes12, spikes13, spikes14];

const ratioLabelDy = 0.22;
const ratioLabelW = 7355;

const xTicks = [4000, 5000, 6000, 7000, 8000, 9000];
const yTicks = [0, 2, 4, 6, 8, 10, 12, 14];

const FONT = "DejaVu Sans";
const fluxWidth = [1.1, 1.4, 1.1, 1.5, 1.5, 1.2, 1.1, 1.2, 1.2, 1.5, 1.1, 1.5, 1.4, 1.1];

function Axes({ x, y, xMinor, yMinor, ylabel, labelX }: any) {
  const [x0, x1] = x.range();
  const [y0, y1] = y.range();
  const cx = (x0 + x1) / 2;
  return (
    <g fontFamily={FONT} fill="#000">
      <rect x={x0} y={y1} width={x1 - x0} height={y0 - y1} fill="none" stroke="#000" strokeWidth={1} />
      {xMinor.map((t: number) => (
        <line key={"xm" + t} x1={x(t)} x2={x(t)} y1={y0} y2={y0 - 2.5} stroke="#000" strokeWidth={0.8} />
      ))}
      {xTicks.map((t) => (
        <g key={"x" + t}>
          <line x1={x(t)} x2={x(t)} y1={y0} y2={y0 - 5} stroke="#000" strokeWidth={0.8} />
          <text x={x(t)} y={y0 + 16} fontSize={12.5} textAnchor="middle">{t}</text>
        </g>
      ))}
      {yMinor.map((t: number) => (
        <line key={"ym" + t} x1={x0} x2={x0 + 2.5} y1={y(t)} y2={y(t)} stroke="#000" strokeWidth={0.8} />
      ))}
      {yTicks.map((t) => (
        <g key={"y" + t}>
          <line x1={x0} x2={x0 + 5} y1={y(t)} y2={y(t)} stroke="#000" strokeWidth={0.8} />
          <text x={x0 - 5} y={y(t)} fontSize={12.5} textAnchor="end" dominantBaseline="central">{t}</text>
        </g>
      ))}
      <text x={cx} y={766} fontSize={15.5} textAnchor="middle">
        Wavelength (<tspan fontStyle="italic">Å</tspan>)
      </text>
      <text transform={`translate(${labelX},${(y0 + y1) / 2}) rotate(-90)`} fontSize={15.5} textAnchor="middle" dominantBaseline="central">
        {ylabel}
      </text>
    </g>
  );
}

export default function App() {
  const xL = d3.scaleLinear().domain([3390, 9315]).range([57.3, 383.3]);
  const yL = d3.scaleLinear().domain([0, 14.5]).range([726.7, 20]);
  const xR = d3.scaleLinear().domain([3360, 9270]).range([444, 771]);
  const yR = d3.scaleLinear().domain([-1, 14]).range([727.3, 20]);

  const line = d3.line<P2>().x((d) => xL(d[0])).y((d) => yL(d[1]));

  return (
    <svg width={789} height={789} style={{ position: "absolute", left: 0, top: 0, background: "#fff" }}>
      <defs>
        <clipPath id="clipL"><rect x={57.3} y={20} width={326} height={706.7} /></clipPath>
        <clipPath id="clipR"><rect x={444} y={20} width={327} height={707.3} /></clipPath>
      </defs>

      {/* left: flux */}
      <g clipPath="url(#clipL)">
        {fluxSeries.map((s, i) => (
          <g key={"f" + i}>
            <path d={line(s) ?? ""} fill="none" stroke="#000" strokeWidth={fluxWidth[i]} strokeLinejoin="round" />
            {fluxLines[i].map((l, j) => (
              <line key={j} x1={xL(l[0])} x2={xL(l[0])} y1={yL(l[1])} y2={yL(l[2])} stroke="#000" strokeWidth={0.8} />
            ))}
          </g>
        ))}
      </g>
      {names.map((n, i) => (
        <text key={"fl" + i} x={xL(fluxLabelW)} y={yL(fluxLabelY[i])} fontFamily={FONT} fontSize={10} textAnchor="middle" dominantBaseline="central">{n}</text>
      ))}
      <Axes x={xL} y={yL} xMinor={d3.range(3400, 9315, 200)} yMinor={d3.range(0, 14.5, 0.4)} ylabel="Flux (arbitrary unit)" labelX={22} />

      {/* right: S/L ratio */}
      <g clipPath="url(#clipR)">
        {ratioOffset.map((o) => (
          <line key={"g" + o} x1={444} x2={771} y1={yR(o)} y2={yR(o)} stroke="#808080" strokeWidth={1} />
        ))}
        {ratioSeries.map((vals, i) => {
          const off = ratioOffset[i];
          const rl = d3.line<number>().x((_, k) => xR(ratioWave[k])).y((v) => yR(off + v));
          return (
            <g key={"r" + i}>
              <path d={rl(vals) ?? ""} fill="none" stroke="#000" strokeWidth={1.1} strokeLinejoin="miter" />
              {ratioSpikes[i].map((s, j) => (
                <line key={j} x1={xR(s[0])} x2={xR(s[0])} y1={yR(off + s[1])} y2={yR(off + s[2])} stroke="#000" strokeWidth={0.9} />
              ))}
            </g>
          );
        })}
      </g>
      {names.map((n, i) => (
        <text key={"rl" + i} x={xR(ratioLabelW)} y={yR(ratioOffset[i] + ratioLabelDy)} fontFamily={FONT} fontSize={10} textAnchor="middle" dominantBaseline="central">{n}</text>
      ))}
      <Axes x={xR} y={yR} xMinor={d3.range(3400, 9270, 200)} yMinor={d3.range(-0.8, 14.01, 0.4)} ylabel="S/L ratio" labelX={398} />
    </svg>
  );
}
